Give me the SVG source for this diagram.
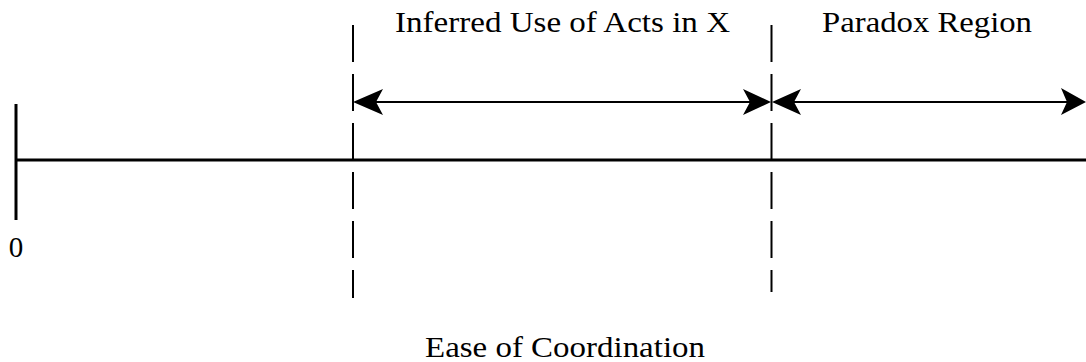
<svg xmlns="http://www.w3.org/2000/svg" width="1086" height="362" viewBox="0 0 1086 362">
<style>
.lbl{font-family:"Liberation Serif","DejaVu Serif",serif;font-size:29px;fill:#000;text-anchor:middle}
.axis{stroke:#000;stroke-width:3;fill:none}
.dash{stroke:#000;stroke-width:2;stroke-dasharray:37 12;fill:none}
.arr{stroke:#000;stroke-width:2;fill:none}
.head{fill:#000;stroke:none}
</style>
<rect width="1086" height="362" fill="#fff"/>
<g id="axis">
<line class="axis" x1="16" y1="104" x2="16" y2="220"/>
<line class="axis" x1="16" y1="160" x2="1086" y2="160"/>
<text class="lbl" x="16" y="257">0</text>
</g>
<g id="boundaries">
<line class="dash" x1="353" y1="25" x2="353" y2="298"/>
<line class="dash" x1="771.5" y1="25" x2="771.5" y2="292"/>
</g>
<g id="connectors">
<line class="arr" x1="360" y1="102" x2="765" y2="102"/>
<polygon class="head" points="353,102 383,89 376,102 383,115"/>
<polygon class="head" points="771,102 743,89 750,102 743,115"/>
<line class="arr" x1="778" y1="102" x2="1080" y2="102"/>
<polygon class="head" points="772,102 801,89 794,102 801,115"/>
<polygon class="head" points="1086,102 1061,88 1067,102 1061,115"/>
</g>
<g id="label-inferred">
<text class="lbl" x="562.5" y="32" textLength="335" lengthAdjust="spacingAndGlyphs">Inferred Use of Acts in X</text>
</g>
<g id="label-paradox">
<text class="lbl" x="927" y="32" textLength="210" lengthAdjust="spacingAndGlyphs">Paradox Region</text>
</g>
<g id="label-ease">
<text class="lbl" x="565" y="357" textLength="280" lengthAdjust="spacingAndGlyphs">Ease of Coordination</text>
</g>
</svg>
